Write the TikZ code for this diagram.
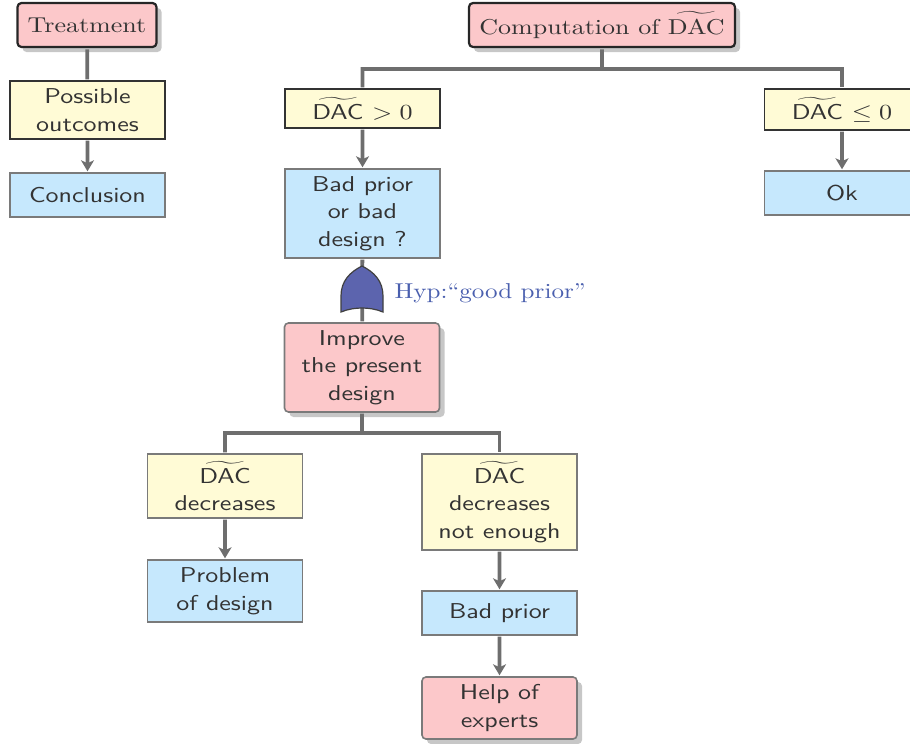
\documentclass[tikz,border=0pt]{standalone}
\usepackage{amsmath}
\usetikzlibrary{shadows,arrows.meta}
\definecolor{pinkbox}{HTML}{FCC8CA}
\definecolor{yellowbox}{HTML}{FFFBD6}
\definecolor{bluebox}{HTML}{C6E8FD}
\definecolor{txt}{HTML}{333333}
\definecolor{conn}{HTML}{6E6E6E}
\definecolor{edge}{HTML}{7A7A7A}
\definecolor{hypblue}{HTML}{4A5FAE}
\definecolor{gatefill}{HTML}{5C64AE}
\newcommand{\dac}{$\widetilde{\text{\sffamily DAC}}$}
\newcommand{\dacser}{$\widetilde{\text{\rmfamily DAC}}$}
\tikzset{
  tall/.style={minimum height=#1pt/2.15},
  wide/.style={minimum width=#1pt/2.6},
  boxbase/.style={xscale=2.6,yscale=2.15,transform shape,draw=edge,line width=1.6pt,align=center,text=txt,inner sep=0pt,
    font=\fontsize{10}{12.8}\selectfont\sffamily,wide=155},
  bluecell/.style={boxbase,fill=bluebox},
  yellowcell/.style={boxbase,fill=yellowbox},
  darkyellow/.style={yellowcell,draw=black!80},
  pinkcell/.style={boxbase,fill=pinkbox,rounded corners=4pt,
    drop shadow={shadow xshift=5pt,shadow yshift=-5pt,fill=black!22,opacity=1}},
  headcell/.style={pinkcell,draw=black!85,line width=2.2pt,font=\fontsize{10}{12.8}\selectfont\rmfamily},
  link/.style={draw=conn,line width=3.8pt},
  arrowlink/.style={link,-{Stealth[length=11pt,width=13pt,inset=3pt]}},
}
\begin{document}
\begin{tikzpicture}[x=1pt,y=-1pt]
\useasboundingbox (0,0) rectangle (910,744);
\clip (0,0) rectangle (910,744);
\coordinate (busA) at (602,69);
\coordinate (busB) at (362,433);
\node[headcell,wide=139,tall=44] (treat) at (87,25) {Treatment};
\node[darkyellow,tall=58] (poss) at (87.5,110) {Possible\\outcomes};
\node[bluecell,tall=44] (concl) at (87.5,195) {Conclusion};
\node[headcell,wide=266,tall=44] (comp) at (602,25) {Computation of \dacser};
\node[darkyellow,tall=39] (pos) at (362.5,108.5) {\dac{} $>0$};
\node[darkyellow,tall=41] (neg) at (842,109.5) {\dac{} $\leq 0$};
\node[bluecell,tall=44] (ok) at (842,193) {Ok};
\node[bluecell,tall=89] (bad) at (362.5,213.5) {Bad prior\\or bad\\design ?};
\node[pinkcell,tall=89] (imp) at (362,367.5) {Improve\\the present\\design};
\node[yellowcell,tall=64] (dec) at (225,486) {\dac\\decreases};
\node[yellowcell,tall=96] (notenough) at (499.5,502) {\dac\\decreases\\not enough};
\node[bluecell,tall=62] (prob) at (225,591) {Problem\\of design};
\node[bluecell,tall=44] (bprior) at (499.5,613) {Bad prior};
\node[pinkcell,tall=62] (help) at (499.5,708) {Help of\\experts};
\draw[link] (treat) -- (poss);
\draw[arrowlink] (poss) -- (concl);
\draw[link] (comp) -- (busA) -| (pos.north);
\draw[link] (busA) -| (neg.north);
\draw[arrowlink] (pos) -- (bad);
\draw[arrowlink] (neg) -- (ok);
\draw[link] (bad) -- (imp);
\draw[link] (imp) -- (busB) -| (dec.north);
\draw[link] (busB) -| (notenough.north);
\draw[arrowlink] (dec) -- (prob);
\draw[arrowlink] (notenough) -- (bprior);
\draw[arrowlink] (bprior) -- (help);
\draw[draw=black!75,line width=1.2pt,fill=gatefill]
  (362,266) .. controls (374,272) and (383,281) .. (383,296) -- (383,312)
  .. controls (376,309) and (368,308) .. (362,308)
  .. controls (356,308) and (348,309) .. (341,312) -- (341,296)
  .. controls (341,281) and (350,272) .. (362,266) -- cycle;
\node[xscale=2.51,yscale=2.15,transform shape,anchor=west,text=hypblue,inner sep=0pt,font=\fontsize{10}{12.8}\selectfont\rmfamily] (hyp) at (394,293) {Hyp:``good prior''};
\end{tikzpicture}
\end{document}
